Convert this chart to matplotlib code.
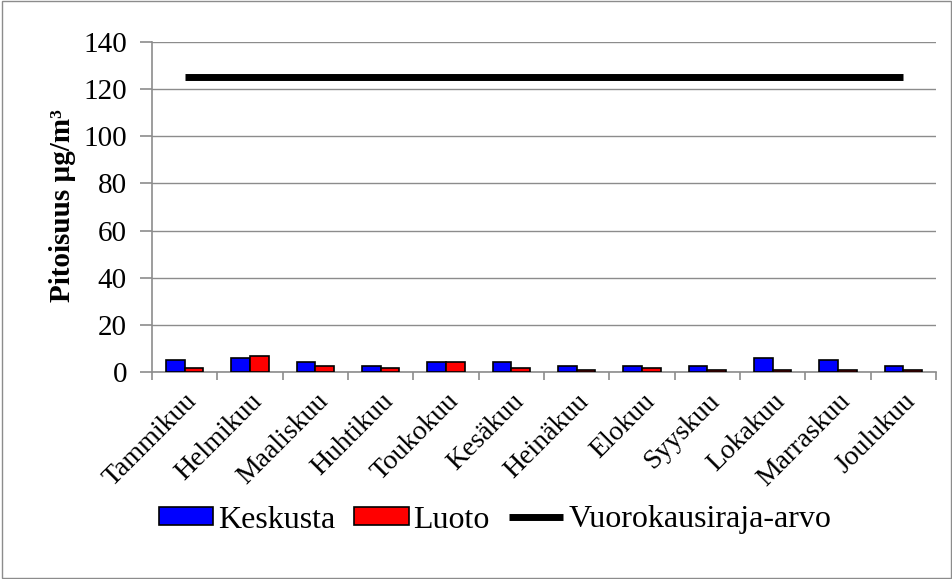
import matplotlib
matplotlib.use("Agg")
import matplotlib.pyplot as plt
import numpy as np
from matplotlib.patches import Rectangle

months = ["Tammikuu", "Helmikuu", "Maaliskuu", "Huhtikuu", "Toukokuu", "Kesäkuu",
          "Heinäkuu", "Elokuu", "Syyskuu", "Lokakuu", "Marraskuu", "Joulukuu"]
keskusta = [5.1, 5.9, 4.2, 2.5, 4.2, 4.2, 2.5, 2.5, 2.5, 5.9, 5.1, 2.5]
luoto = [1.7, 6.8, 2.5, 1.7, 4.2, 1.7, 0.8, 1.7, 0.8, 0.8, 0.8, 0.8]
raja_arvo = [125] * 12

plt.rcParams["font.family"] = ["Liberation Serif", "DejaVu Serif"]

W, H = 953, 579
fig = plt.figure(figsize=(W / 100, H / 100), dpi=100)
fig.patch.set_facecolor("white")
fig.add_artist(Rectangle((0.002, 0.002), 0.996, 0.996, transform=fig.transFigure,
                         fill=False, edgecolor="#8c8c8c", linewidth=1))

left, right, top, bottom = 152, 936, 42, 372
ax = fig.add_axes([left / W, 1 - bottom / H, (right - left) / W, (bottom - top) / H])
x = np.arange(len(months))
w = 0.285
b1 = ax.bar(x - w / 2, keskusta, w, color="#0000ff", edgecolor="black", linewidth=1.2,
            label="Keskusta", zorder=3)
b2 = ax.bar(x + w / 2, luoto, w, color="#ff0000", edgecolor="black", linewidth=1.2,
            label="Luoto", zorder=3)
ln, = ax.plot(x, raja_arvo, color="black", linewidth=5, label="Vuorokausiraja-arvo",
              solid_capstyle="butt", zorder=4)

ax.set_xlim(-0.5, len(months) - 0.5)
ax.set_ylim(0, 140)
ax.set_yticks(np.arange(0, 141, 20))
ax.yaxis.grid(True, color="#8c8c8c", linewidth=1)
ax.set_axisbelow(True)
for s in ["top", "right"]:
    ax.spines[s].set_visible(False)
for s in ["left", "bottom"]:
    ax.spines[s].set_color("#8c8c8c")
    ax.spines[s].set_linewidth(1.2)

ax.set_xticks(np.arange(-0.5, len(months), 1))
ax.set_xticklabels([])
ax.set_xticks(x, minor=True)
ax.set_xticklabels(months, minor=True, rotation=45, ha="right", va="top",
                   rotation_mode="anchor", fontsize=20)
ax.tick_params(axis="x", which="minor", length=0, pad=12)
ax.tick_params(axis="x", which="major", length=6, color="#8c8c8c", width=1.2)
ax.tick_params(axis="y", length=9, color="#8c8c8c", width=1.2, labelsize=21, pad=9)

ax.set_ylabel("Pitoisuus µg/m³", fontsize=21, fontweight="bold")
ax.yaxis.set_label_coords((76 - left) / (right - left), 0.503)

fig.legend([b1, b2, ln], ["Keskusta", "Luoto", "Vuorokausiraja-arvo"],
           loc="center", bbox_to_anchor=(495 / W, 1 - 520 / H), ncol=3, frameon=False,
           fontsize=23, handlelength=1.7, handleheight=0.5, handletextpad=0.15,
           columnspacing=0.6)

fig.savefig("out.png", dpi=100)
